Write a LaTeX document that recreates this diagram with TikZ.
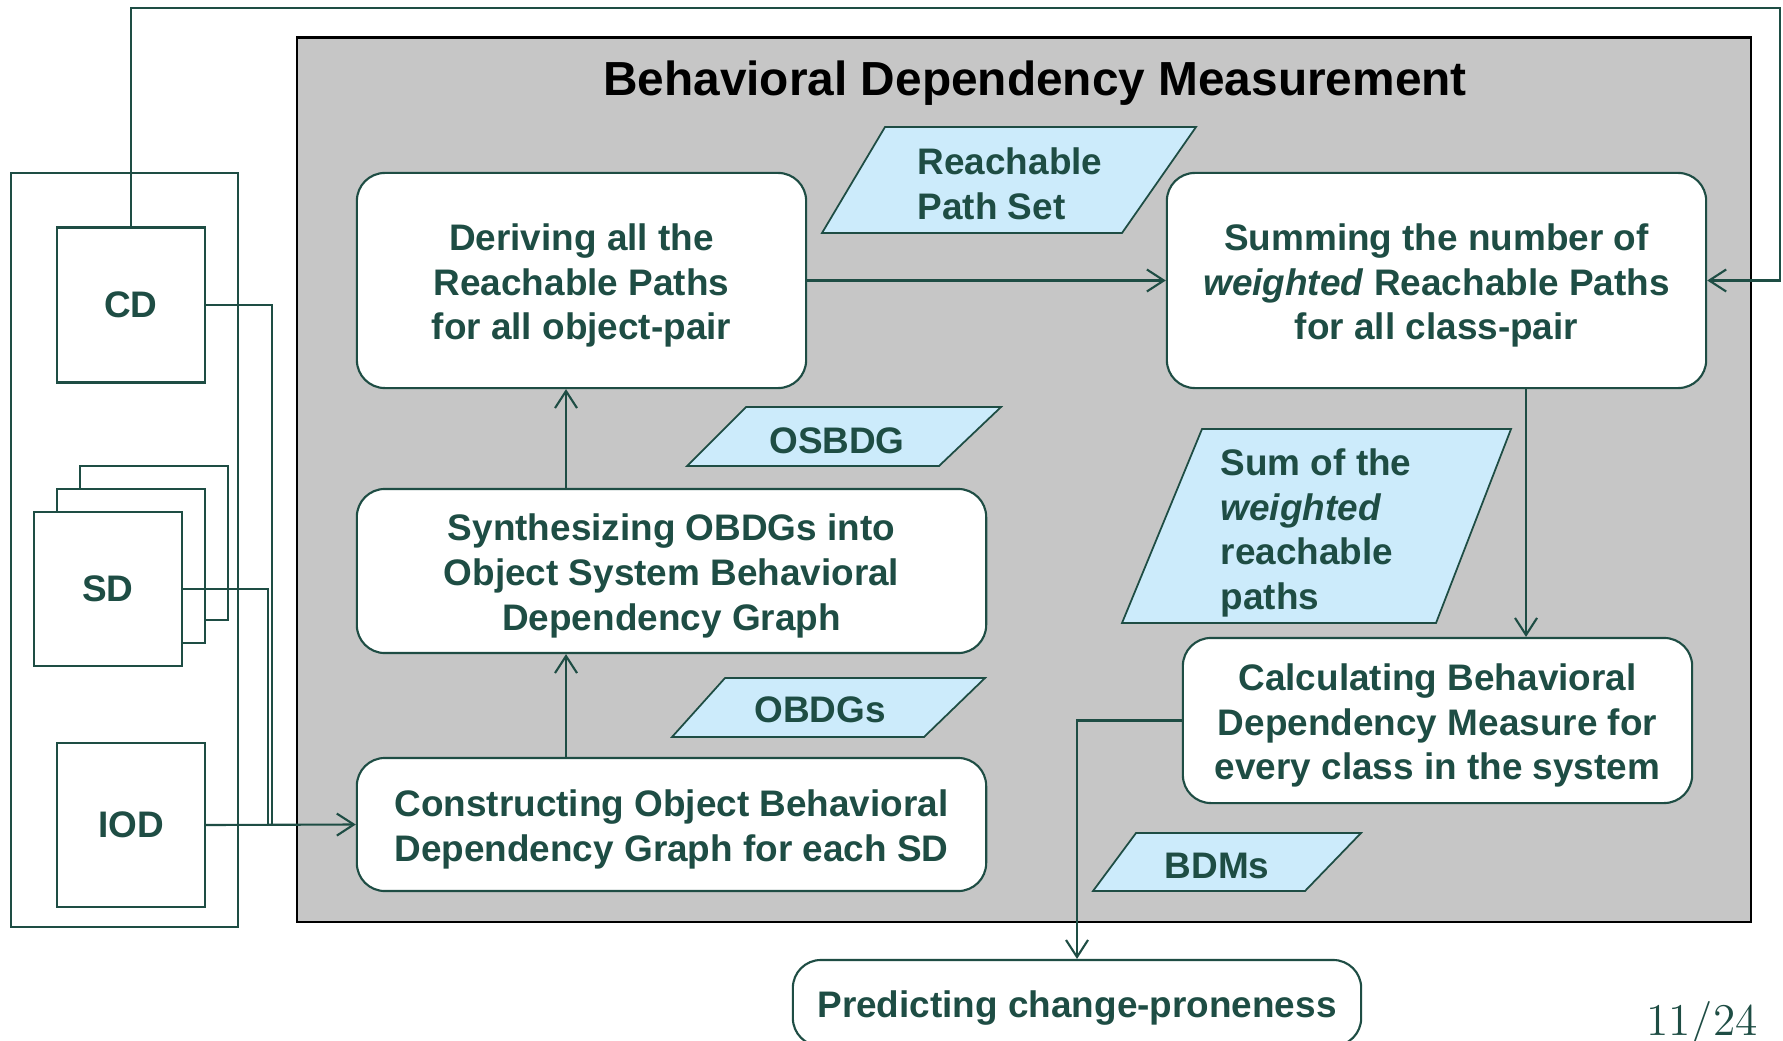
\documentclass[tikz,border=0pt]{standalone}
\usepackage{fontspec}
\setsansfont{Liberation Sans}
\usetikzlibrary{arrows.meta,calc,positioning}
\definecolor{dgreen}{HTML}{1E4D44}
\definecolor{lblue}{HTML}{CCEBFB}
\definecolor{panelgray}{HTML}{C6C6C6}
\newcommand{\boxfont}{\sffamily\bfseries\fontsize{10.5}{12.7}\selectfont}
\newcommand{\topstrut}{\rule{0pt}{1.0em}}
\tikzset{
    procbox/.style={draw=dgreen, line width=0.6pt, fill=white, rounded corners=0.28cm,
        align=center, text=dgreen, font=\boxfont, inner sep=0pt},
    docbox/.style={draw=dgreen, line width=0.6pt, fill=white, text=dgreen,
        font=\boxfont, inner sep=0pt},
    datashape/.style={draw=dgreen, line width=0.5pt, fill=lblue},
    datalabel/.style={text=dgreen, font=\boxfont, inner sep=0pt},
    wireline/.style={draw=dgreen, line width=0.6pt},
    flowline/.style={draw=dgreen, line width=0.6pt, -{Straight Barb[length=1.7mm,width=2.2mm]}}
}

\begin{document}
\begin{tikzpicture}[x=0.01cm, y=-0.01cm]
    \useasboundingbox (0,0) rectangle (1783,1040);
    \clip (0,0) rectangle (1783,1040);
    \fill[white] (0,0) rectangle (1783,1040);

    % Draw measurement panel.
    \draw[fill=panelgray, line width=0.8pt] (297,37.5) rectangle (1751,922);
    \node[font=\sffamily\bfseries\fontsize{13.6}{16}\selectfont] (title) at (1035,83)
        {Behavioral Dependency Measurement};

    % Draw input diagrams.
    \draw[wireline] (11,173) rectangle (238,927);
    \node[docbox, minimum width=1.48cm, minimum height=1.55cm] (CD) at (131,305) {CD};
    \foreach \k in {2,1}
        \draw[wireline, fill=white] ({34+23*\k},{512-23*\k}) rectangle ({182+23*\k},{666-23*\k});
    \node[docbox, minimum width=1.48cm, minimum height=1.54cm] (SD) at (108,589) {SD};
    \node[docbox, minimum width=1.48cm, minimum height=1.64cm] (IOD) at (131,825) {IOD};

    % Draw process steps.
    \node[procbox, minimum width=4.49cm, minimum height=2.15cm] (derive) at (581.5,280.5)
        {\topstrut Deriving all the\\Reachable Paths\\for all object-pair};
    \node[procbox, minimum width=5.39cm, minimum height=2.15cm] (summing) at (1436.5,280.5)
        {\topstrut Summing the number of\\\textit{weighted} Reachable Paths\\for all class-pair};
    \node[procbox, minimum width=6.29cm, minimum height=1.64cm] (synth) at (671.5,571)
        {\topstrut Synthesizing OBDGs into\\Object System Behavioral\\Dependency Graph};
    \node[procbox, minimum width=6.29cm, minimum height=1.33cm] (construct) at (671.5,824.5)
        {\topstrut Constructing Object Behavioral\\Dependency Graph for each SD};
    \node[procbox, minimum width=5.09cm, minimum height=1.65cm] (calc) at (1437.5,720.5)
        {\topstrut Calculating Behavioral\\Dependency Measure for\\every class in the system};
    \node[procbox, minimum width=5.68cm, minimum height=0.86cm] (predict) at (1077,1003)
        {\topstrut Predicting change-proneness};

    % Draw data items.
    \draw[datashape] (885,127) -- (1196,127) -- (1122,233) -- (822,233) -- cycle;
    \node[datalabel, anchor=west, align=left] (pathset) at (917,184) {Reachable\\Path Set};
    \draw[datashape] (746,407) -- (1001,407) -- (939,466) -- (687,466) -- cycle;
    \node[datalabel] (osbdg) at (837,441) {OSBDG};
    \draw[datashape] (725,678) -- (985,678) -- (924,737) -- (672,737) -- cycle;
    \node[datalabel] (obdgs) at (820,710) {OBDGs};
    \draw[datashape] (1202,429) -- (1511,429) -- (1436,623) -- (1122,623) -- cycle;
    \node[datalabel, anchor=west, align=left] (wsum) at (1220,533)
        {Sum of the\\\textit{weighted}\\reachable\\paths};
    \draw[datashape] (1136,833) -- (1361,833) -- (1305,891) -- (1093,891) -- cycle;
    \node[datalabel] (bdms) at (1217,866) {BDMs};

    % Draw connectors.
    \coordinate (busA) at (272,825);
    \coordinate (busB) at (268,825);
    \coordinate (upx) at (566,0);
    \coordinate (downx) at (1526,0);
    \coordinate (loopcorner) at (1780,8);
    \draw[wireline] (CD.east) -| (busA);
    \draw[wireline] (SD.east) -| (busB);
    \draw[flowline] (IOD.east) -- (construct.west);
    \draw[flowline] (construct.north -| upx) -- (synth.south -| upx);
    \draw[flowline] (synth.north -| upx) -- (derive.south -| upx);
    \draw[flowline] (derive.east) -- (summing.west);
    \draw[flowline] (CD.north) |- (loopcorner) |- (summing.east);
    \draw[flowline] (summing.south -| downx) -- (calc.north -| downx);
    \draw[flowline] (calc.west) -| (predict.north);

    % Page number.
    \node[anchor=base, text=dgreen, font=\rmfamily\fontsize{12.9}{14}\selectfont] (pagenum)
        at (1702,1035) {11/24};
\end{tikzpicture}
\end{document}
